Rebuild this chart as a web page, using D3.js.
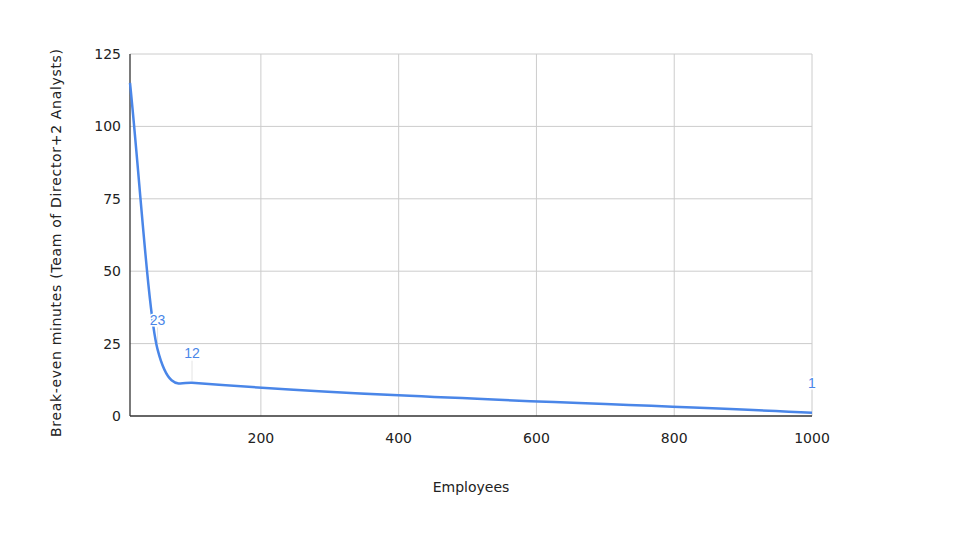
<!DOCTYPE html>
<html>
<head>
<meta charset="utf-8">
<script src="https://cdn.jsdelivr.net/npm/d3@7"></script>
<style>
  body { margin: 0; background: #fff; }
  svg { display: block; }
</style>
</head>
<body>
<div id="chart"></div>
<script>
//Size of the page.
let w = 960
let h = 540

//Data.
let employees = [10, 50, 100, 1000]
let minutes = [115, 23, 11.5, 1.15]
let labelled = [false, true, true, true]

//Axis ticks.
let xTicks = [200, 400, 600, 800, 1000]
let yTicks = [0, 25, 50, 75, 100, 125]

let tickFont = "'Comic Sans MS', 'DejaVu Sans', sans-serif"
let lineColor = "#4a86e8"
let smoothing = 0.8

const svg = d3.select("#chart")
              .append("svg")
              .attr("width", w)
              .attr("height", h)

//Plot area.
let plotLeft = 130, plotRight = 812, plotTop = 54, plotBottom = 416

let x = d3.scaleLinear().domain([10, 1000]).range([plotLeft, plotRight])
let y = d3.scaleLinear().domain([0, 125]).range([plotBottom, plotTop])

//Smoothed line through every point, with tangents taken from the neighbours (y as a function of x).
function smoothCurve(context) {
  let pts = []
  return {
    areaStart() {},
    areaEnd() {},
    lineStart() { pts = [] },
    point(px, py) { pts.push([+px, +py]) },
    lineEnd() {
      let n = pts.length
      let m = pts.map((p, i) => {
        let a = pts[Math.max(i - 1, 0)], b = pts[Math.min(i + 1, n - 1)]
        let k = (i == 0 || i == n - 1) ? 1 : smoothing
        return k * (b[1] - a[1]) / (b[0] - a[0])
      })
      context.moveTo(pts[0][0], pts[0][1])
      for (let i = 0; i < n - 1; i++) {
        let [x0, y0] = pts[i], [x1, y1] = pts[i + 1]
        let d = (x1 - x0) / 3
        context.bezierCurveTo(x0 + d, y0 + m[i] * d, x1 - d, y1 - m[i + 1] * d, x1, y1)
      }
    }
  }
}

//Horizontal gridlines.
svg.append("g")
   .selectAll("line")
   .data(yTicks.slice(1))
   .enter()
   .append("line")
   .attr("x1", plotLeft).attr("x2", plotRight)
   .attr("y1", d => y(d)).attr("y2", d => y(d))
   .attr("stroke", "#cccccc")
   .attr("stroke-width", 1)

//Vertical gridlines.
svg.append("g")
   .selectAll("line")
   .data(xTicks)
   .enter()
   .append("line")
   .attr("x1", d => x(d)).attr("x2", d => x(d))
   .attr("y1", plotTop).attr("y2", plotBottom)
   .attr("stroke", "#cccccc")
   .attr("stroke-width", 1)

//Y tick labels.
svg.append("g")
   .selectAll("text")
   .data(yTicks)
   .enter()
   .append("text")
   .attr("x", plotLeft - 9)
   .attr("y", d => y(d))
   .attr("dy", "0.35em")
   .attr("text-anchor", "end")
   .style("font-family", tickFont)
   .style("font-size", "14px")
   .attr("fill", "#222")
   .text(d => d)

//X tick labels.
svg.append("g")
   .selectAll("text")
   .data(xTicks)
   .enter()
   .append("text")
   .attr("x", d => x(d))
   .attr("y", plotBottom + 27)
   .attr("text-anchor", "middle")
   .style("font-family", tickFont)
   .style("font-size", "14px")
   .attr("fill", "#222")
   .text(d => d)

//Axis lines.
svg.append("line")
   .attr("x1", plotLeft).attr("x2", plotLeft)
   .attr("y1", plotTop).attr("y2", plotBottom)
   .attr("stroke", "#333").attr("stroke-width", 1.3)
svg.append("line")
   .attr("x1", plotLeft).attr("x2", plotRight)
   .attr("y1", plotBottom).attr("y2", plotBottom)
   .attr("stroke", "#333").attr("stroke-width", 1.3)

//Axis titles.
svg.append("text")
   .attr("x", (plotLeft + plotRight) / 2)
   .attr("y", 492)
   .attr("text-anchor", "middle")
   .style("font-family", tickFont)
   .style("font-size", "14px")
   .attr("fill", "#222")
   .text("Employees")

svg.append("text")
   .attr("transform", "translate(61, 243) rotate(-90)")
   .attr("text-anchor", "middle")
   .attr("textLength", 388)
   .attr("lengthAdjust", "spacing")
   .style("font-family", tickFont)
   .style("font-size", "14px")
   .attr("fill", "#222")
   .text("Break-even minutes (Team of Director+2 Analysts)")

let points = employees.map((e, i) => ({x: e, y: minutes[i], label: labelled[i]}))

//Leader lines under the data labels.
svg.append("g")
   .selectAll("line")
   .data(points.filter(d => d.label))
   .enter()
   .append("line")
   .attr("x1", d => x(d.x)).attr("x2", d => x(d.x))
   .attr("y1", d => y(d.y) - 22).attr("y2", d => y(d.y) - 2)
   .attr("stroke", "#e4e4e4")
   .attr("stroke-width", 1)

//The smoothed line.
let line = d3.line()
             .x(d => x(d.x))
             .y(d => y(d.y))
             .curve(smoothCurve)

svg.append("path")
   .datum(points)
   .attr("d", line)
   .attr("fill", "none")
   .attr("stroke", lineColor)
   .attr("stroke-width", 2.5)

//Data labels, with a white halo over the line.
svg.append("g")
   .selectAll("text")
   .data(points.filter(d => d.label))
   .enter()
   .append("text")
   .attr("x", d => x(d.x))
   .attr("y", d => y(d.y) - 24.5)
   .attr("text-anchor", "middle")
   .style("font-family", "'Liberation Sans', Arial, sans-serif")
   .style("font-size", "14px")
   .style("paint-order", "stroke")
   .attr("stroke", "#fff")
   .attr("stroke-width", 3)
   .attr("stroke-linejoin", "round")
   .attr("fill", lineColor)
   .text(d => d3.format(".0f")(d.y))
</script>
</body>
</html>
